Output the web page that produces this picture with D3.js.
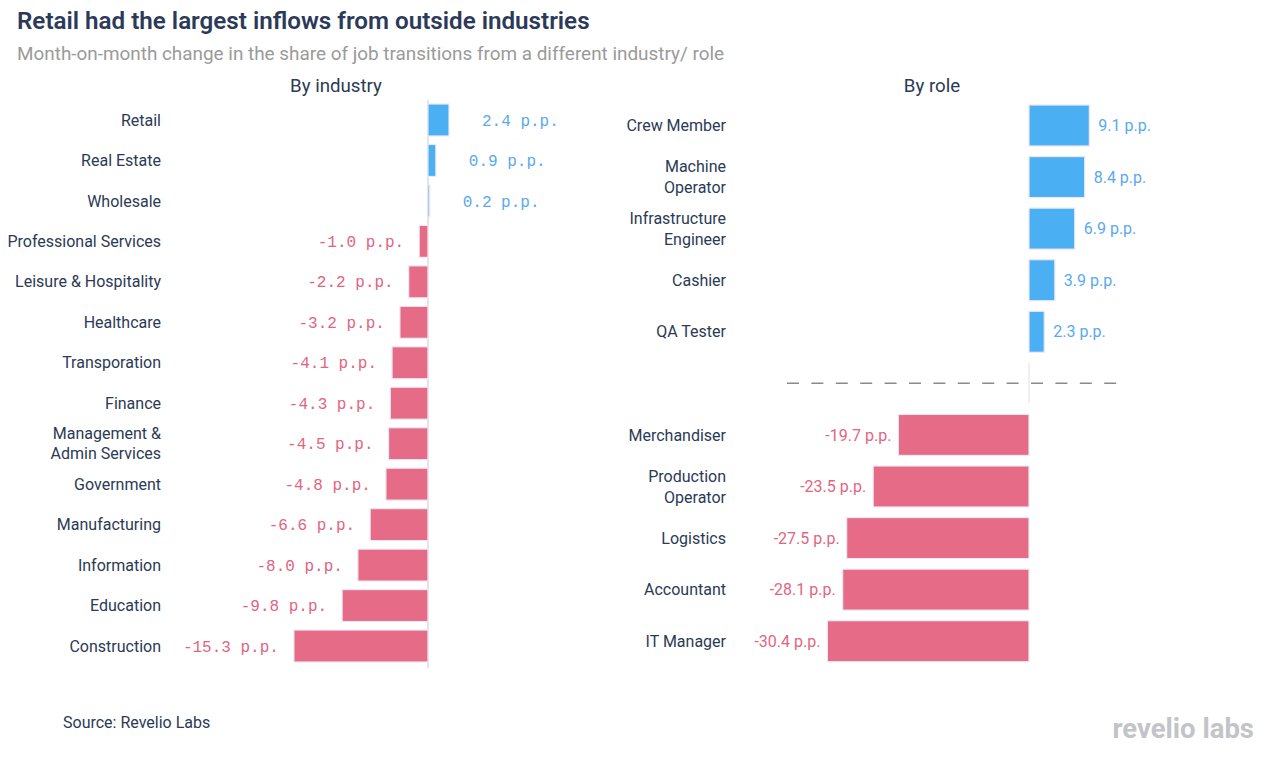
<!DOCTYPE html>
<html>
<head>
<meta charset="utf-8">
<script src="https://cdn.jsdelivr.net/npm/d3@7"></script>
<style>
  html, body { margin: 0; padding: 0; background: #fff; }
  svg { display: block; font-family: Roboto, "Noto Sans", sans-serif; }
</style>
</head>
<body>
<svg id="chart" width="1270" height="769"></svg>
<script>
// ---------- data ----------
const industries = ["Retail", "Real Estate", "Wholesale", "Professional Services",
  "Leisure & Hospitality", "Healthcare", "Transporation", "Finance",
  "Management & Admin Services", "Government", "Manufacturing", "Information",
  "Education", "Construction"];
const industryValues = [2.4, 0.9, 0.2, -1.0, -2.2, -3.2, -4.1, -4.3, -4.5, -4.8, -6.6, -8.0, -9.8, -15.3];

const roles = ["Crew Member", "Machine Operator", "Infrastructure Engineer", "Cashier", "QA Tester",
  "Merchandiser", "Production Operator", "Logistics", "Accountant", "IT Manager"];
const roleValues = [9.1, 8.4, 6.9, 3.9, 2.3, -19.7, -23.5, -27.5, -28.1, -30.4];

const titleText = "Retail had the largest inflows from outside industries";
const subtitleText = "Month-on-month change in the share of job transitions from a different industry/ role";
const panelTitles = ["By industry", "By role"];
const sourceText = "Source: Revelio Labs";

// ---------- styling ----------
const POS = "#4aaff3", NEG = "#e66b87";
const POS_TXT = "#5aa9ee", NEG_TXT = "#e3647f";
const TXT = "#2b3a55";
const FS = 16;

const svg = d3.select("#chart");

// titles
svg.append("text").attr("x", 17).attr("y", 29).attr("font-size", 24.2).attr("font-weight", 600)
  .attr("fill", "#2c3a5a").text(titleText);
svg.append("text").attr("x", 17).attr("y", 60).attr("font-size", 18.9)
  .attr("fill", "#9a9a9a").text(subtitleText);
svg.append("text").attr("x", 336).attr("y", 92).attr("font-size", 18.7).attr("text-anchor", "middle")
  .attr("fill", TXT).text(panelTitles[0]);
svg.append("text").attr("x", 932).attr("y", 92).attr("font-size", 18.7).attr("text-anchor", "middle")
  .attr("fill", TXT).text(panelTitles[1]);

// helper: measure + balanced two-line split
const measurer = svg.append("text").attr("font-size", FS).attr("visibility", "hidden");
function textW(s) { measurer.text(s); return measurer.node().getComputedTextLength(); }
function splitLabel(s, maxW) {
  if (textW(s) <= maxW) return [s];
  const words = s.split(" ");
  let best = null, bestW = Infinity;
  for (let i = 1; i < words.length; i++) {
    const a = words.slice(0, i).join(" "), b = words.slice(i).join(" ");
    const w = Math.max(textW(a), textW(b));
    if (w < bestW) { bestW = w; best = [a, b]; }
  }
  return best;
}
function drawLabel(g, x, y, s, maxW, lh) {
  const lines = splitLabel(s, maxW);
  const t = g.append("text").attr("x", x).attr("text-anchor", "end").attr("font-size", FS)
    .attr("fill", TXT);
  const y0 = y - (lines.length - 1) * lh / 2;
  lines.forEach((l, i) => {
    t.append("tspan").attr("x", x).attr("y", y0 + i * lh).attr("dy", "0.35em").text(l);
  });
}
const fmt = v => v.toFixed(1) + " p.p.";

// ---------- left panel: by industry ----------
const xL = d3.scaleLinear().domain([-16, 4]).range([287.8, 463]);
const yL = d3.scaleBand().domain(industries).range([104, 662]).paddingInner(0.21).paddingOuter(0);
const gL = svg.append("g");

gL.append("line").attr("x1", xL(0)).attr("x2", xL(0)).attr("y1", 100).attr("y2", 668)
  .attr("stroke", "#e3e3ea").attr("stroke-width", 2);

gL.selectAll("rect").data(industries).join("rect")
  .attr("x", (d, i) => Math.min(xL(0), xL(industryValues[i])))
  .attr("width", (d, i) => Math.abs(xL(industryValues[i]) - xL(0)))
  .attr("y", d => yL(d)).attr("height", yL.bandwidth())
  .attr("fill", (d, i) => industryValues[i] >= 0 ? POS : NEG)
  .attr("stroke", "#eee8f4").attr("stroke-width", 1.2);

industries.forEach((d, i) => {
  const v = industryValues[i], cy = yL(d) + yL.bandwidth() / 2;
  drawLabel(gL, 161, cy, d, 165, 20);
  gL.append("text")
    .attr("x", v >= 0 ? xL(v) + 33 : xL(v) - 15)
    .attr("y", cy).attr("dy", "0.35em")
    .attr("text-anchor", v >= 0 ? "start" : "end")
    .attr("font-family", "'Liberation Mono', 'DejaVu Sans Mono', monospace")
    .attr("font-size", 16)
    .attr("fill", v >= 0 ? POS_TXT : NEG_TXT)
    .text(fmt(v));
});

// ---------- right panel: by role ----------
const nPos = roleValues.filter(v => v >= 0).length;
const roleSlots = roles.slice(0, nPos).concat(["__gap__"], roles.slice(nPos));
const xR = d3.scaleLinear().domain([-32, 10]).range([816.8, 1095.3]);
const yR = d3.scaleBand().domain(roleSlots).range([105, 661.7]).paddingInner(0.205).paddingOuter(0);
const gR = svg.append("g");

const gapY = yR("__gap__") + yR.bandwidth() / 2;
gR.append("line").attr("x1", xR(0)).attr("x2", xR(0)).attr("y1", gapY - 20).attr("y2", gapY + 20)
  .attr("stroke", "#e6ebf3").attr("stroke-width", 1.5);
gR.append("line").attr("x1", 787).attr("x2", 1117).attr("y1", gapY).attr("y2", gapY)
  .attr("stroke", "#8a8a8a").attr("stroke-width", 1.5).attr("stroke-dasharray", "12,12.4");

gR.selectAll("rect").data(roles).join("rect")
  .attr("x", (d, i) => Math.min(xR(0), xR(roleValues[i])))
  .attr("width", (d, i) => Math.abs(xR(roleValues[i]) - xR(0)))
  .attr("y", d => yR(d)).attr("height", yR.bandwidth())
  .attr("fill", (d, i) => roleValues[i] >= 0 ? POS : NEG)
  .attr("stroke", "#eee8f4").attr("stroke-width", 1.2);

roles.forEach((d, i) => {
  const v = roleValues[i], cy = yR(d) + yR.bandwidth() / 2;
  drawLabel(gR, 726, cy, d, 112, 21);
  gR.append("text")
    .attr("x", v >= 0 ? xR(v) + 9 : xR(v) - 7)
    .attr("y", cy).attr("dy", "0.35em")
    .attr("text-anchor", v >= 0 ? "start" : "end")
    .attr("font-size", FS)
    .attr("fill", v >= 0 ? POS_TXT : NEG_TXT)
    .text(fmt(v));
});

// ---------- footer ----------
svg.append("text").attr("x", 63).attr("y", 728).attr("font-size", FS).attr("fill", TXT).text(sourceText);
svg.append("text").attr("x", 1254).attr("y", 738).attr("text-anchor", "end")
  .attr("font-size", 27.5).attr("font-weight", 700).attr("fill", "#c3c4c8")
  .attr("letter-spacing", 0).text("revelio labs");
measurer.remove();
</script>
</body>
</html>
